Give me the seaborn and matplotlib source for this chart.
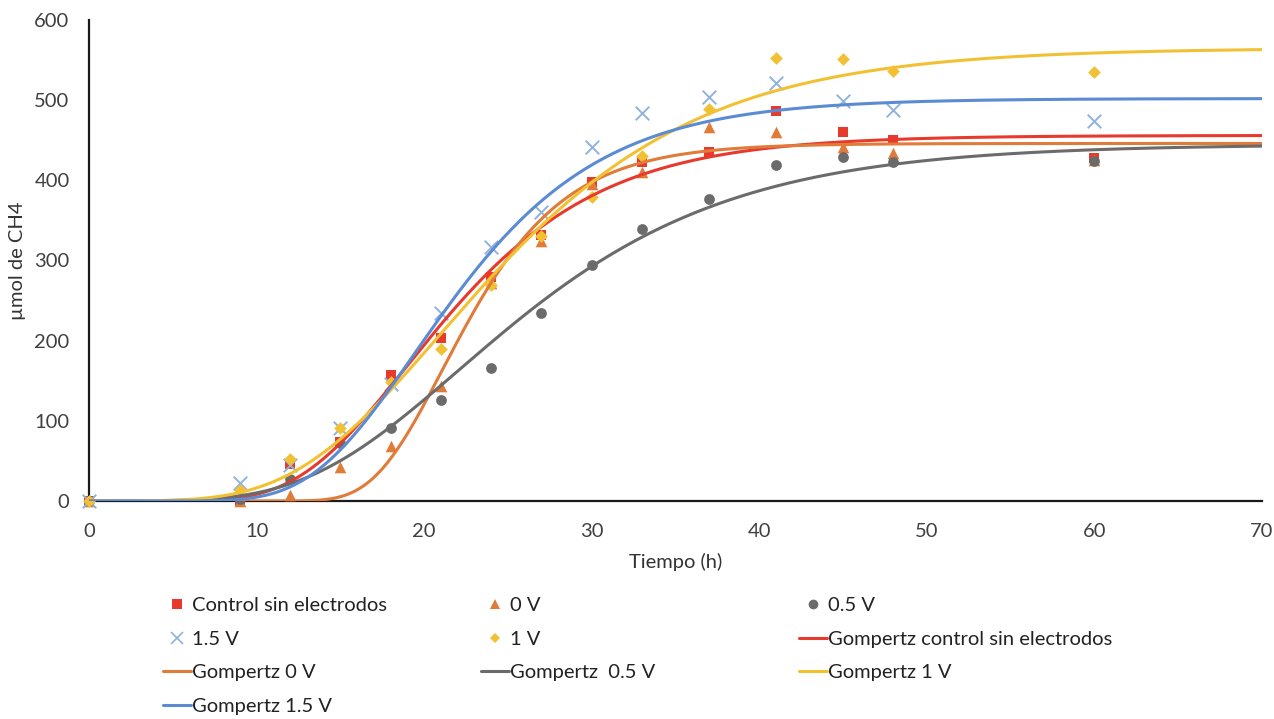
import numpy as np
import matplotlib
matplotlib.use("Agg")
import matplotlib.pyplot as plt
import seaborn as sns
from matplotlib.lines import Line2D

# datos experimentales (umol de CH4)
tiempo = [0, 9, 12, 15, 18, 21, 24, 27, 30, 33, 37, 41, 45, 48, 60]
control = [0, 0, 46, 73, 157, 203, 279, 332, 398, 423, 435, 486, 460, 450, 428]
v0 = [0, 0, 8, 42, 68, 143, 272, 324, 395, 411, 467, 460, 441, 434, 425]
v05 = [0, 2, 27, 72, 91, 126, 166, 235, 294, 339, 377, 419, 429, 423, 424]
v15 = [0, 22, 45, 91, 146, 235, 317, 361, 442, 484, 504, 522, 499, 488, 474]
v1 = [0, 14, 52, 91, 148, 190, 270, 330, 379, 430, 489, 552, 551, 536, 535]

# parametros de Gompertz estimados de las curvas: P, Rm, lambda
gomp_nombres = ["Gompertz control sin electrodos", "Gompertz 0 V",
                "Gompertz  0.5 V", "Gompertz 1 V", "Gompertz 1.5 V"]
gomp_P = [456, 446, 445, 565, 502]
gomp_Rm = [26, 40, 18, 24, 30]
gomp_lam = [12.5, 17.0, 13.0, 12.3, 13.3]

puntos_nombres = ["Control sin electrodos", "0 V", "0.5 V", "1.5 V", "1 V"]
puntos_datos = [control, v0, v05, v15, v1]

c_rojo = "#e8392d"
c_naranja = "#e07b39"
c_gris = "#6b6b6b"
c_amarillo = "#f2c133"
c_azul = "#5b8bd3"
c_azul_claro = "#8fb2de"

puntos_estilo = [
    dict(marker="s", color=c_rojo, s=55),
    dict(marker="^", color=c_naranja, s=70),
    dict(marker="o", color=c_gris, s=60),
    dict(marker="x", color=c_azul_claro, s=95),
    dict(marker="D", color=c_amarillo, s=42),
]
gomp_colores = [c_rojo, c_naranja, c_gris, c_amarillo, c_azul]

FS = 14.5


def gompertz(t, P, Rm, lam):
    return P * np.exp(-np.exp(Rm * np.e / P * (lam - t) + 1))


sns.set_theme(style="white")
plt.rcParams["font.family"] = ["Lato", "DejaVu Sans"]

fig = plt.figure(figsize=(12.74, 7.19), dpi=100)
ax = fig.add_axes([89 / 1274, 1 - 501 / 719, (1262 - 89) / 1274, (501 - 20) / 719])

# puntos
for datos, est in zip(puntos_datos, puntos_estilo):
    if est["marker"] == "x":
        sns.scatterplot(x=tiempo, y=datos, marker="x", s=est["s"], color=est["color"],
                        linewidth=1.4, ax=ax, legend=False, clip_on=False, zorder=3)
    else:
        sns.scatterplot(x=tiempo, y=datos, marker=est["marker"], s=est["s"],
                        color=est["color"], linewidth=0, ax=ax, legend=False,
                        clip_on=False, zorder=3)

# curvas de Gompertz
t = np.linspace(0, 70, 400)
for P, Rm, lam, col in zip(gomp_P, gomp_Rm, gomp_lam, gomp_colores):
    sns.lineplot(x=t, y=gompertz(t, P, Rm, lam), color=col, linewidth=2.2,
                 ax=ax, legend=False, zorder=4)

ax.set_xlim(0, 70)
ax.set_ylim(0, 600)
ax.set_xticks(range(0, 71, 10))
ax.set_yticks(range(0, 601, 100))
ax.tick_params(axis="both", length=0, labelsize=FS, colors="#404040")
ax.tick_params(axis="x", pad=16)
ax.tick_params(axis="y", pad=14)
ax.set_xlabel("Tiempo (h)", fontsize=FS, color="#333333", labelpad=9)
ax.set_ylabel("µmol de CH4", fontsize=FS, color="#333333", labelpad=6)
for lado in ["top", "right"]:
    ax.spines[lado].set_visible(False)
for lado in ["left", "bottom"]:
    ax.spines[lado].set_color("#1a1a1a")
    ax.spines[lado].set_linewidth(1.6)

# leyenda en 3 columnas de igual ancho
def h_punto(est):
    if est["marker"] == "x":
        return Line2D([], [], marker="x", linestyle="none", markersize=9,
                      markeredgecolor=est["color"], markeredgewidth=1.2)
    return Line2D([], [], marker=est["marker"], linestyle="none",
                  markersize=7 if est["marker"] != "D" else 5.5,
                  color=est["color"], markeredgewidth=0)

def h_linea(col):
    return Line2D([], [], color=col, linewidth=2.2)

items = [(h_punto(e), n) for e, n in zip(puntos_estilo, puntos_nombres)]
items += [(h_linea(c), n) for c, n in zip(gomp_colores, gomp_nombres)]

cols_x = [163 / 1274, 481 / 1274, 799 / 1274]
for i, x0 in enumerate(cols_x):
    sel = items[i::3]
    fig.legend([h for h, _ in sel], [n for _, n in sel], loc="upper left",
               bbox_to_anchor=(x0, 1 - 597 / 719), frameon=False,
               fontsize=FS, borderpad=0, borderaxespad=0,
               handlelength=1.4, handletextpad=0.05, labelspacing=0.82,
               labelcolor="#222222")

fig.savefig("out.png", dpi=100)
